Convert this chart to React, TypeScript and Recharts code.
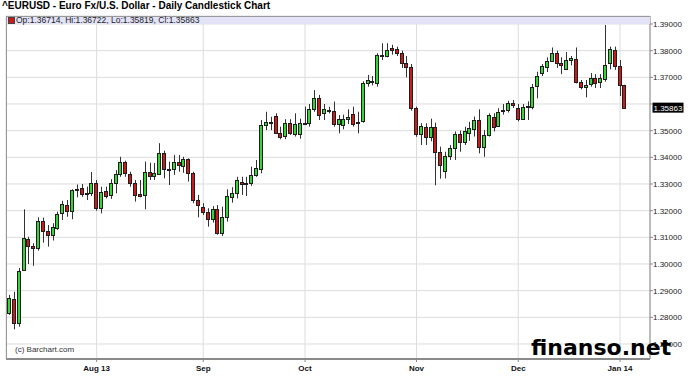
import React from "react";
import { ComposedChart, Bar, XAxis, YAxis, CartesianGrid, ReferenceLine } from "recharts";

const dates = [
  "2013-07-08","2013-07-09","2013-07-10","2013-07-11","2013-07-12","2013-07-15","2013-07-16","2013-07-17","2013-07-18","2013-07-19",
  "2013-07-22","2013-07-23","2013-07-24","2013-07-25","2013-07-26","2013-07-29","2013-07-30","2013-07-31",
  "2013-08-01","2013-08-02","2013-08-05","2013-08-06","2013-08-07","2013-08-08","2013-08-09","2013-08-12","2013-08-13","2013-08-14",
  "2013-08-15","2013-08-16","2013-08-19","2013-08-20","2013-08-21","2013-08-22","2013-08-23","2013-08-26","2013-08-27","2013-08-28",
  "2013-08-29","2013-08-30",
  "2013-09-02","2013-09-03","2013-09-04","2013-09-05","2013-09-06","2013-09-09","2013-09-10","2013-09-11","2013-09-12","2013-09-13",
  "2013-09-16","2013-09-17","2013-09-18","2013-09-19","2013-09-20","2013-09-23","2013-09-24","2013-09-25","2013-09-26","2013-09-27",
  "2013-09-30",
  "2013-10-01","2013-10-02","2013-10-03","2013-10-04","2013-10-07","2013-10-08","2013-10-09","2013-10-10","2013-10-11","2013-10-14",
  "2013-10-15","2013-10-16","2013-10-17","2013-10-18","2013-10-21","2013-10-22","2013-10-23","2013-10-24","2013-10-25","2013-10-28",
  "2013-10-29","2013-10-30","2013-10-31",
  "2013-11-01","2013-11-04","2013-11-05","2013-11-06","2013-11-07","2013-11-08","2013-11-11","2013-11-12","2013-11-13","2013-11-14",
  "2013-11-15","2013-11-18","2013-11-19","2013-11-20","2013-11-21","2013-11-22","2013-11-25","2013-11-26","2013-11-27","2013-11-28",
  "2013-11-29",
  "2013-12-02","2013-12-03","2013-12-04","2013-12-05","2013-12-06","2013-12-09","2013-12-10","2013-12-11","2013-12-12","2013-12-13",
  "2013-12-16","2013-12-17","2013-12-18","2013-12-19","2013-12-20","2013-12-23","2013-12-24","2013-12-26","2013-12-27","2013-12-30",
  "2013-12-31",
  "2014-01-02","2014-01-03"
];

const opens = [
  1.2815,1.2868,1.2780,1.2978,1.3093,1.3069,1.3059,1.3161,1.3125,1.3110,
  1.3134,1.3190,1.3221,1.3200,1.3278,1.3284,1.3263,1.3265,1.3302,1.3210,
  1.3274,1.3259,1.3302,1.3336,1.3381,1.3336,1.3302,1.3262,1.3259,1.3346,
  1.3331,1.3336,1.3417,1.3355,1.3357,1.3384,1.3368,1.3393,1.3340,1.3240,
  1.3215,1.3196,1.3168,1.3205,1.3117,1.3178,1.3252,1.3265,1.3309,1.3299,
  1.3302,1.3334,1.3355,1.3521,1.3532,1.3555,1.3492,1.3480,1.3528,1.3488,
  1.3488,1.3524,1.3528,1.3580,1.3621,1.3565,1.3576,1.3575,1.3525,1.3521,
  1.3545,1.3562,1.3528,1.3537,1.3678,1.3686,1.3680,1.3780,1.3780,1.3809,
  1.3805,1.3790,1.3752,1.3738,1.3584,1.3488,1.3515,1.3475,1.3513,1.3421,
  1.3350,1.3405,1.3434,1.3488,1.3459,1.3492,1.3505,1.3540,1.3440,1.3484,
  1.3550,1.3518,1.3575,1.3578,1.3603,1.3584,1.3543,1.3589,1.3590,1.3668,
  1.3718,1.3740,1.3762,1.3790,1.3755,1.3730,1.3765,1.3767,1.3684,1.3663,
  1.3675,1.3696,1.3684,1.3693,1.3752,1.3802,1.3743,1.36714
];

const highs = [
  1.2884,1.2896,1.2985,1.3205,1.3102,1.3078,1.3175,1.3174,1.3146,1.3153,
  1.3196,1.3237,1.3240,1.3280,1.3298,1.3300,1.3290,1.3345,1.3315,1.3290,
  1.3290,1.3318,1.3352,1.3402,1.3387,1.3346,1.3315,1.3315,1.3384,1.3380,
  1.3379,1.3453,1.3425,1.3384,1.3409,1.3409,1.3402,1.3396,1.3346,1.3259,
  1.3228,1.3209,1.3217,1.3221,1.3215,1.3280,1.3288,1.3327,1.3327,1.3327,
  1.3365,1.3390,1.3540,1.3571,1.3552,1.3565,1.3515,1.3543,1.3543,1.3565,
  1.3545,1.3590,1.3600,1.3652,1.3634,1.3600,1.3590,1.3609,1.3559,1.3560,
  1.3580,1.3590,1.3571,1.3685,1.3709,1.3705,1.3790,1.3828,1.3828,1.3822,
  1.3815,1.3800,1.3780,1.3750,1.3590,1.3528,1.3528,1.3545,1.3530,1.3440,
  1.3421,1.3446,1.3497,1.3500,1.3515,1.3533,1.3553,1.3580,1.3502,1.3565,
  1.3565,1.3584,1.3600,1.3612,1.3615,1.3600,1.3600,1.3610,1.3675,1.3721,
  1.3750,1.3775,1.3812,1.3800,1.3775,1.3795,1.3780,1.3812,1.3690,1.3690,
  1.3716,1.3712,1.3712,1.3896,1.3815,1.3815,1.3765,1.36722
];

const lows = [
  1.2809,1.2755,1.2765,1.2975,1.3000,1.2993,1.3050,1.3080,1.3065,1.3088,
  1.3128,1.3165,1.3177,1.3168,1.3250,1.3252,1.3240,1.3255,1.3200,1.3190,
  1.3246,1.3244,1.3265,1.3327,1.3327,1.3290,1.3234,1.3250,1.3205,1.3315,
  1.3315,1.3334,1.3321,1.3296,1.3334,1.3346,1.3342,1.3309,1.3228,1.3175,
  1.3184,1.3140,1.3155,1.3110,1.3105,1.3159,1.3230,1.3246,1.3259,1.3255,
  1.3293,1.3327,1.3340,1.3502,1.3502,1.3490,1.3468,1.3468,1.3484,1.3478,
  1.3470,1.3521,1.3515,1.3571,1.3540,1.3540,1.3565,1.3515,1.3490,1.3505,
  1.3525,1.3515,1.3490,1.3530,1.3665,1.3670,1.3665,1.3765,1.3775,1.3785,
  1.3780,1.3735,1.3700,1.3575,1.3477,1.3446,1.3446,1.3460,1.3295,1.3320,
  1.3321,1.3390,1.3390,1.3421,1.3446,1.3462,1.3478,1.3415,1.3402,1.3478,
  1.3497,1.3515,1.3560,1.3568,1.3585,1.3535,1.3540,1.3540,1.3580,1.3621,
  1.3705,1.3720,1.3758,1.3735,1.3712,1.3727,1.3745,1.3677,1.3655,1.3625,
  1.3665,1.3660,1.3660,1.3684,1.3730,1.3728,1.3630,1.35819
];

const closes = [
  1.2871,1.2778,1.2975,1.3096,1.3069,1.3059,1.3161,1.3125,1.3110,1.3140,
  1.3186,1.3224,1.3200,1.3278,1.3281,1.3263,1.3266,1.3302,1.3210,1.3270,
  1.3256,1.3302,1.3336,1.3381,1.3340,1.3302,1.3259,1.3256,1.3346,1.3330,
  1.3342,1.3417,1.3355,1.3358,1.3384,1.3371,1.3393,1.3340,1.3240,1.3221,
  1.3196,1.3168,1.3205,1.3117,1.3178,1.3255,1.3265,1.3315,1.3299,1.3302,
  1.3334,1.3359,1.3521,1.3534,1.3528,1.3492,1.3475,1.3528,1.3492,1.3524,
  1.3528,1.3530,1.3580,1.3621,1.3559,1.3580,1.3579,1.3525,1.3543,1.3543,
  1.3550,1.3525,1.3531,1.3678,1.3690,1.3683,1.3784,1.3784,1.3802,1.3802,
  1.3790,1.3752,1.3738,1.3584,1.3488,1.3518,1.3475,1.3513,1.3421,1.3371,
  1.3405,1.3434,1.3488,1.3459,1.3497,1.3509,1.3540,1.3440,1.3484,1.3559,
  1.3515,1.3571,1.3577,1.3603,1.3596,1.3543,1.3588,1.3591,1.3665,1.3705,
  1.3743,1.3762,1.3790,1.3752,1.3746,1.3765,1.3771,1.3684,1.3665,1.3671,
  1.3696,1.3678,1.3696,1.3746,1.3805,1.3743,1.3671,1.35863
];

const monthTicks = ["2013-08-01", "2013-09-02", "2013-10-01", "2013-11-01", "2013-12-02", "2014-01-02"];
const monthLabels = ["Aug 13", "Sep", "Oct", "Nov", "Dec", "Jan 14"];
const priceTicks = [1.27, 1.28, 1.29, 1.3, 1.31, 1.32, 1.33, 1.34, 1.35, 1.36, 1.37, 1.38, 1.39];

const FONT = '"Liberation Sans", Arial, Helvetica, sans-serif';
const GREEN = "#36d436";
const RED = "#cc1a1a";

const Candle = (props: any) => {
  const { x, y, width, height, payload } = props;
  if (x == null || y == null || !payload) return null;
  const { open, close, high, low } = payload;
  const top = Math.min(y, y + height);
  const h = Math.abs(height);
  const k = high > low ? h / (high - low) : 0;
  const bTop = top + (high - Math.max(open, close)) * k;
  const bBot = top + (high - Math.min(open, close)) * k;
  const c = Math.floor(x + width / 2);
  const up = close >= open;
  const by = Math.round(bTop) + 0.5;
  const bh = Math.max(Math.round(bBot) - Math.round(bTop), 1);
  return (
    <g>
      <line x1={c + 0.5} x2={c + 0.5} y1={top} y2={top + h} stroke="#333" strokeWidth={1} />
      <rect x={c - 1.5} y={by} width={3} height={bh} fill={up ? GREEN : RED} stroke="#1e1e1e" strokeWidth={1} />
    </g>
  );
};

const PriceTick = (props: any) => {
  const { x, y, payload } = props;
  if (Math.abs(payload.value - 1.36) < 1e-9) return <g />;
  return (
    <text x={x} y={y} dy={3} fontSize={8} fill="#222" fontFamily={FONT} textAnchor="start">
      {Number(payload.value).toFixed(5)}
    </text>
  );
};

const PriceTag = (props: any) => {
  const vb = props.viewBox || {};
  const yy = vb.y;
  const x0 = (vb.x || 0) + (vb.width || 0) + 2.5;
  if (yy == null) return null;
  return (
    <g>
      <rect x={x0} y={yy - 5} width={31} height={10} fill="#000" />
      <text x={x0 + 1} y={yy + 3} fontSize={8} fill="#fff" fontFamily={FONT}>
        {closes[closes.length - 1].toFixed(5)}
      </text>
    </g>
  );
};

export default function App() {
  const data = dates.map((d, i) => ({
    date: d,
    open: opens[i],
    high: highs[i],
    low: lows[i],
    close: closes[i],
    range: [lows[i], highs[i]],
  }));
  const last = closes.length - 1;
  return (
    <div style={{ position: "absolute", left: 0, top: 0, width: 688, height: 378, background: "#fff", overflow: "hidden", fontFamily: FONT }}>
      <ComposedChart
        width={688}
        height={378}
        data={data}
        margin={{ top: 16, right: 0, bottom: 0, left: 6 }}
        barCategoryGap={0}
        barGap={0}
        style={{ position: "absolute", left: 0, top: 0 }}
      >
        <CartesianGrid stroke="#dcdcdc" strokeWidth={1} />
        <XAxis
          dataKey="date"
          type="category"
          ticks={monthTicks}
          interval={0}
          tickFormatter={(v: string) => monthLabels[monthTicks.indexOf(v)] ?? ""}
          height={19}
          padding={{ left: 1, right: 22.7 }}
          axisLine={{ stroke: "#8a8a8a", strokeWidth: 2 }}
          tickLine={{ stroke: "#8a8a8a" }}
          tickSize={3}
          tickMargin={3}
          tick={{ fontSize: 8, fontWeight: 700, fill: "#111", fontFamily: FONT }}
        />
        <YAxis
          orientation="right"
          type="number"
          domain={[1.26437, 1.393]}
          ticks={priceTicks}
          allowDataOverflow
          width={38}
          tickSize={3}
          tickMargin={0}
          axisLine={{ stroke: "#8a8a8a" }}
          tickLine={{ stroke: "#8a8a8a" }}
          tick={<PriceTick />}
        />
        <Bar dataKey="range" isAnimationActive={false} shape={<Candle />} />
        <ReferenceLine y={closes[last]} stroke="none" label={<PriceTag />} />
      </ComposedChart>

      {/* plot frame left/top */}
      <div style={{ position: "absolute", left: 6, top: 16, width: 644, height: 343, borderLeft: "1px solid #999", borderTop: "1px solid #999", boxSizing: "border-box", pointerEvents: "none" }} />
      {/* legend band */}
      <div style={{ position: "absolute", left: 7, top: 17, width: 643, height: 7, background: "#e3e3f8" }} />
      <div style={{ position: "absolute", left: 8, top: 17, width: 5, height: 5, background: RED, border: "1px solid #444" }} />
      <div style={{ position: "absolute", left: 16, top: 15, fontSize: 8.5, lineHeight: "10px", color: "#222", whiteSpace: "nowrap" }}>
        {`Op:${opens[last].toFixed(5)}, Hi:${highs[last].toFixed(5)}, Lo:${lows[last].toFixed(5)}, Cl:${closes[last].toFixed(5)}`}
      </div>

      {/* title */}
      <div style={{ position: "absolute", left: 2, top: 0, fontSize: 10, fontWeight: 700, lineHeight: "12px", color: "#000", whiteSpace: "nowrap" }}>
        ^EURUSD - Euro Fx/U.S. Dollar - Daily Candlestick Chart
      </div>

      {/* copyright */}
      <div style={{ position: "absolute", left: 15, top: 345, fontSize: 8, lineHeight: "10px", color: "#333", whiteSpace: "nowrap" }}>
        (c) Barchart.com
      </div>

      {/* watermark */}
      <div style={{ position: "absolute", left: 531, top: 337, fontSize: 22, lineHeight: "22px", fontWeight: 700, color: "#000", fontFamily: '"DejaVu Sans", Verdana, sans-serif', whiteSpace: "nowrap" }}>
        finanso.net
      </div>
    </div>
  );
}
